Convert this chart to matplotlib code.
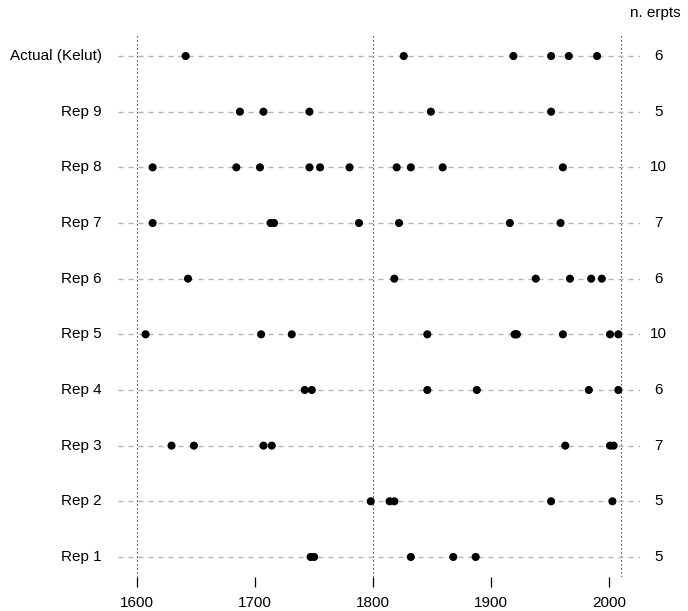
import matplotlib
matplotlib.use("Agg")
import matplotlib.pyplot as plt
from matplotlib.transforms import blended_transform_factory

plt.rcParams["font.family"] = ["Liberation Sans", "DejaVu Sans"]

# -------------------
# DATA (eruption years per series)
# -------------------
labels = ["Rep 1", "Rep 2", "Rep 3", "Rep 4", "Rep 5",
          "Rep 6", "Rep 7", "Rep 8", "Rep 9", "Actual (Kelut)"]

rep1 = [1747, 1750, 1832, 1868, 1887]
rep2 = [1798, 1814, 1818, 1951, 2003]
rep3 = [1629, 1648, 1707, 1714, 1963, 2001, 2004]
rep4 = [1742, 1748, 1846, 1888, 1983, 2008]
rep5 = [1607, 1705, 1731, 1846, 1920, 1921, 1922, 1961, 2001, 2008]
rep6 = [1643, 1818, 1938, 1967, 1985, 1994]
rep7 = [1613, 1713, 1716, 1788, 1822, 1916, 1959]
rep8 = [1613, 1684, 1704, 1746, 1755, 1780, 1820, 1832, 1859, 1961]
rep9 = [1687, 1707, 1746, 1849, 1951]
actual = [1641, 1826, 1919, 1951, 1966, 1990]

series = [rep1, rep2, rep3, rep4, rep5, rep6, rep7, rep8, rep9, actual]
vlines = [1600, 1800, 2010]
xticks = [1600, 1700, 1800, 1900, 2000]

# -------------------
# PLOT
# -------------------
fig = plt.figure(figsize=(6.88, 6.11), dpi=100)
ax = fig.add_axes([118 / 688, 34 / 611, 522 / 688, 541 / 611])

for v in vlines:
    ax.axvline(v, color="black", lw=0.8, ls=(0, (1, 2.6)), zorder=1)

for i, yrs in enumerate(series):
    y = i + 1
    ax.axhline(y, color="#b3b3b3", lw=1.0, ls=(0, (3.6, 3.6)), zorder=1)
    ax.scatter(yrs, [y] * len(yrs), s=34, color="black", zorder=3,
               edgecolors="none")

ax.set_xlim(1583.6, 2026.4)
ax.set_ylim(0.64, 10.36)

for s in ax.spines.values():
    s.set_visible(False)

ax.set_xticks(xticks)
ax.set_xticklabels([str(t) for t in xticks])
ax.tick_params(axis="x", length=7.5, width=0.9, pad=6, labelsize=11)
ax.set_yticks([])

trans = blended_transform_factory(ax.transAxes, ax.transData)
for i, yrs in enumerate(series):
    y = i + 1
    ax.text(-0.031, y, labels[i], transform=trans, ha="right",
            va="center", fontsize=11)
    ax.text(1.036, y, str(len(yrs)), transform=trans, ha="center",
            va="center", fontsize=11)

fig.text(655 / 688, 1 - 13 / 611, "n. erpts", ha="center", va="center",
         fontsize=11)

fig.savefig("out.png", dpi=100)
